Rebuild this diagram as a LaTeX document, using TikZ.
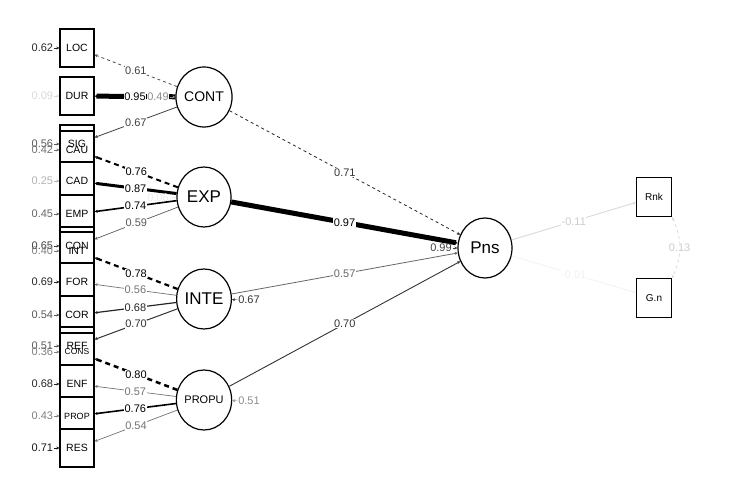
\documentclass[tikz,border=0pt]{standalone}
\usepackage{fontspec}
\setmainfont{Liberation Sans}
\usetikzlibrary{shapes.geometric,arrows.meta}

\begin{document}
\begin{tikzpicture}[x=1pt,y=-1pt,
 indbox/.style={draw,line width=1.3pt,fill=white,minimum width=34pt,minimum height=38pt,inner sep=0pt},
 latent/.style={draw,ellipse,line width=1.2pt,fill=white,minimum width=54pt,minimum height=60pt,inner sep=0pt},
 coef/.style={fill=white,inner sep=0.6pt,font=\fontsize{11}{11}\selectfont},
 resid/.style={inner sep=0.6pt,font=\fontsize{11}{11}\selectfont},
 arw/.style={-{Stealth[length=3pt,width=3pt]}},
 dsh/.style={dash pattern=on 5pt off 4pt}]
 \useasboundingbox (0,0) rectangle (729,484);

 %Indicators
 \foreach \n/\y in {LOC/48,DUR/96,SIG/144,CAU/150,CAD/181,EMP/214,CON/246,INT/251,FOR/282,COR/315,REF/346,CONS/352,ENF/384,PROP/416,RES/448}
  \node[indbox] (\n) at (77,\y) {};
 \foreach \n/\s in {LOC/10.5,DUR/10.5,SIG/10.5,CAU/10.5,CAD/10.5,EMP/10.5,CON/10.5,INT/10.5,FOR/10.5,COR/10.5,REF/10.5,CONS/8.5,ENF/10.5,PROP/9,RES/10.5}
  \node[font=\fontsize{\s}{\s}\selectfont] at (\n) {\n};

 %Residuals of indicators
 \foreach \n/\v/\c in {LOC/0.62/85,DUR/0.09/15,SIG/0.56/65,CAU/0.42/55,CAD/0.25/30,EMP/0.45/60,CON/0.65/75,INT/0.40/50,FOR/0.69/85,COR/0.54/65,REF/0.51/65,CONS/0.36/50,ENF/0.68/85,PROP/0.43/50,RES/0.71/90}
 {
  \path (\n.west) ++(-17,0) node[resid,text=black!\c] (r\n) {\v};
  \draw[arw,black!\c] (r\n) -- (\n);
 }

 %Latents
 \node[latent,font=\fontsize{14}{14}\selectfont] (CONT) at (204,97) {CONT};
 \node[latent,font=\fontsize{17}{17}\selectfont] (EXP) at (204,197) {EXP};
 \node[latent,font=\fontsize{17}{17}\selectfont] (INTE) at (204,299) {INTE};
 \node[latent,font=\fontsize{11}{11}\selectfont] (PROPU) at (204,400) {PROPU};
 \node[latent,font=\fontsize{17}{17}\selectfont] (Pns) at (485,248) {Pns};

 %Covariates
 \node[indbox,minimum width=35pt,minimum height=39pt,font=\fontsize{10}{10}\selectfont] (Rnk) at (654,197) {Rnk};
 \node[indbox,minimum width=35pt,minimum height=39pt,font=\fontsize{10}{10}\selectfont] (Gn) at (654,298) {G.n};

 %Loadings
 \draw[arw,dashed,black!70,line width=0.8pt] (CONT) -- node[coef,text=black!75] {0.61} (LOC);
 \draw[arw,black,line width=5pt] (CONT) -- node[coef] {0.95} (DUR);
 \draw[arw,black!75,line width=0.8pt] (CONT) -- node[coef,text=black!75] {0.67} (SIG);

 \draw[arw,dsh,black,line width=2pt] (EXP) -- node[coef] {0.76} (CAU);
 \draw[arw,black,line width=3pt] (EXP) -- node[coef] {0.87} (CAD);
 \draw[arw,black,line width=1.6pt] (EXP) -- node[coef] {0.74} (EMP);
 \draw[arw,black!65,line width=0.7pt] (EXP) -- node[coef,text=black!65] {0.59} (CON);

 \draw[arw,dsh,black,line width=2.2pt] (INTE) -- node[coef] {0.78} (INT);
 \draw[arw,black!55,line width=0.7pt] (INTE) -- node[coef,text=black!55] {0.56} (FOR);
 \draw[arw,black!85,line width=1.2pt] (INTE) -- node[coef,text=black!85] {0.68} (COR);
 \draw[arw,black!80,line width=1pt] (INTE) -- node[coef,text=black!80] {0.70} (REF);

 \draw[arw,dsh,black,line width=2.5pt] (PROPU) -- node[coef] {0.80} (CONS);
 \draw[arw,black!55,line width=0.7pt] (PROPU) -- node[coef,text=black!55] {0.57} (ENF);
 \draw[arw,black,line width=1.6pt] (PROPU) -- node[coef] {0.76} (PROP);
 \draw[arw,black!55,line width=0.7pt] (PROPU) -- node[coef,text=black!55] {0.54} (RES);

 %Second order
 \draw[arw,dashed,black!85,line width=0.8pt] (CONT) -- node[coef,text=black!80] {0.71} (Pns);
 \draw[arw,black,line width=5pt] (EXP) -- node[coef] {0.97} (Pns);
 \draw[arw,black!60,line width=0.8pt] (INTE) -- node[coef,text=black!60] {0.57} (Pns);
 \draw[arw,black!80,line width=0.9pt] (PROPU) -- node[coef,text=black!80] {0.70} (Pns);

 %Covariates paths
 \draw[arw,black!15,line width=0.9pt] (Pns) -- node[coef,text=black!20] {-0.11} (Rnk);
 \draw[arw,black!5,line width=0.8pt] (Pns) -- node[coef,text=black!6] {-0.01} (Gn);
 \draw[{Stealth[length=3pt,width=3pt]}-{Stealth[length=3pt,width=3pt]},dashed,black!15,line width=0.8pt] (Rnk.south east) to[bend left=25] node[coef,text=black!20] {0.13} (Gn.north east);

 %Residuals of latents
 \node[resid,fill=white,text=black!45] (rCONT) at (158,97) {0.49};
 \draw[arw,black!45] (rCONT) -- (CONT);
 \node[resid,text=black!8] (rEXP) at (158,198) {0.06};
 \draw[arw,black!8] (rEXP) -- (EXP);
 \node[resid,text=black!80] (rINTE) at (249,300) {0.67};
 \draw[arw,black!80] (rINTE) -- (INTE);
 \node[resid,text=black!45] (rPROPU) at (249,401) {0.51};
 \draw[arw,black!45] (rPROPU) -- (PROPU);
 \node[resid,text=black!75] (rPns) at (441,248) {0.99};
 \draw[arw,black!75] (rPns) -- (Pns);

\end{tikzpicture}
\end{document}
